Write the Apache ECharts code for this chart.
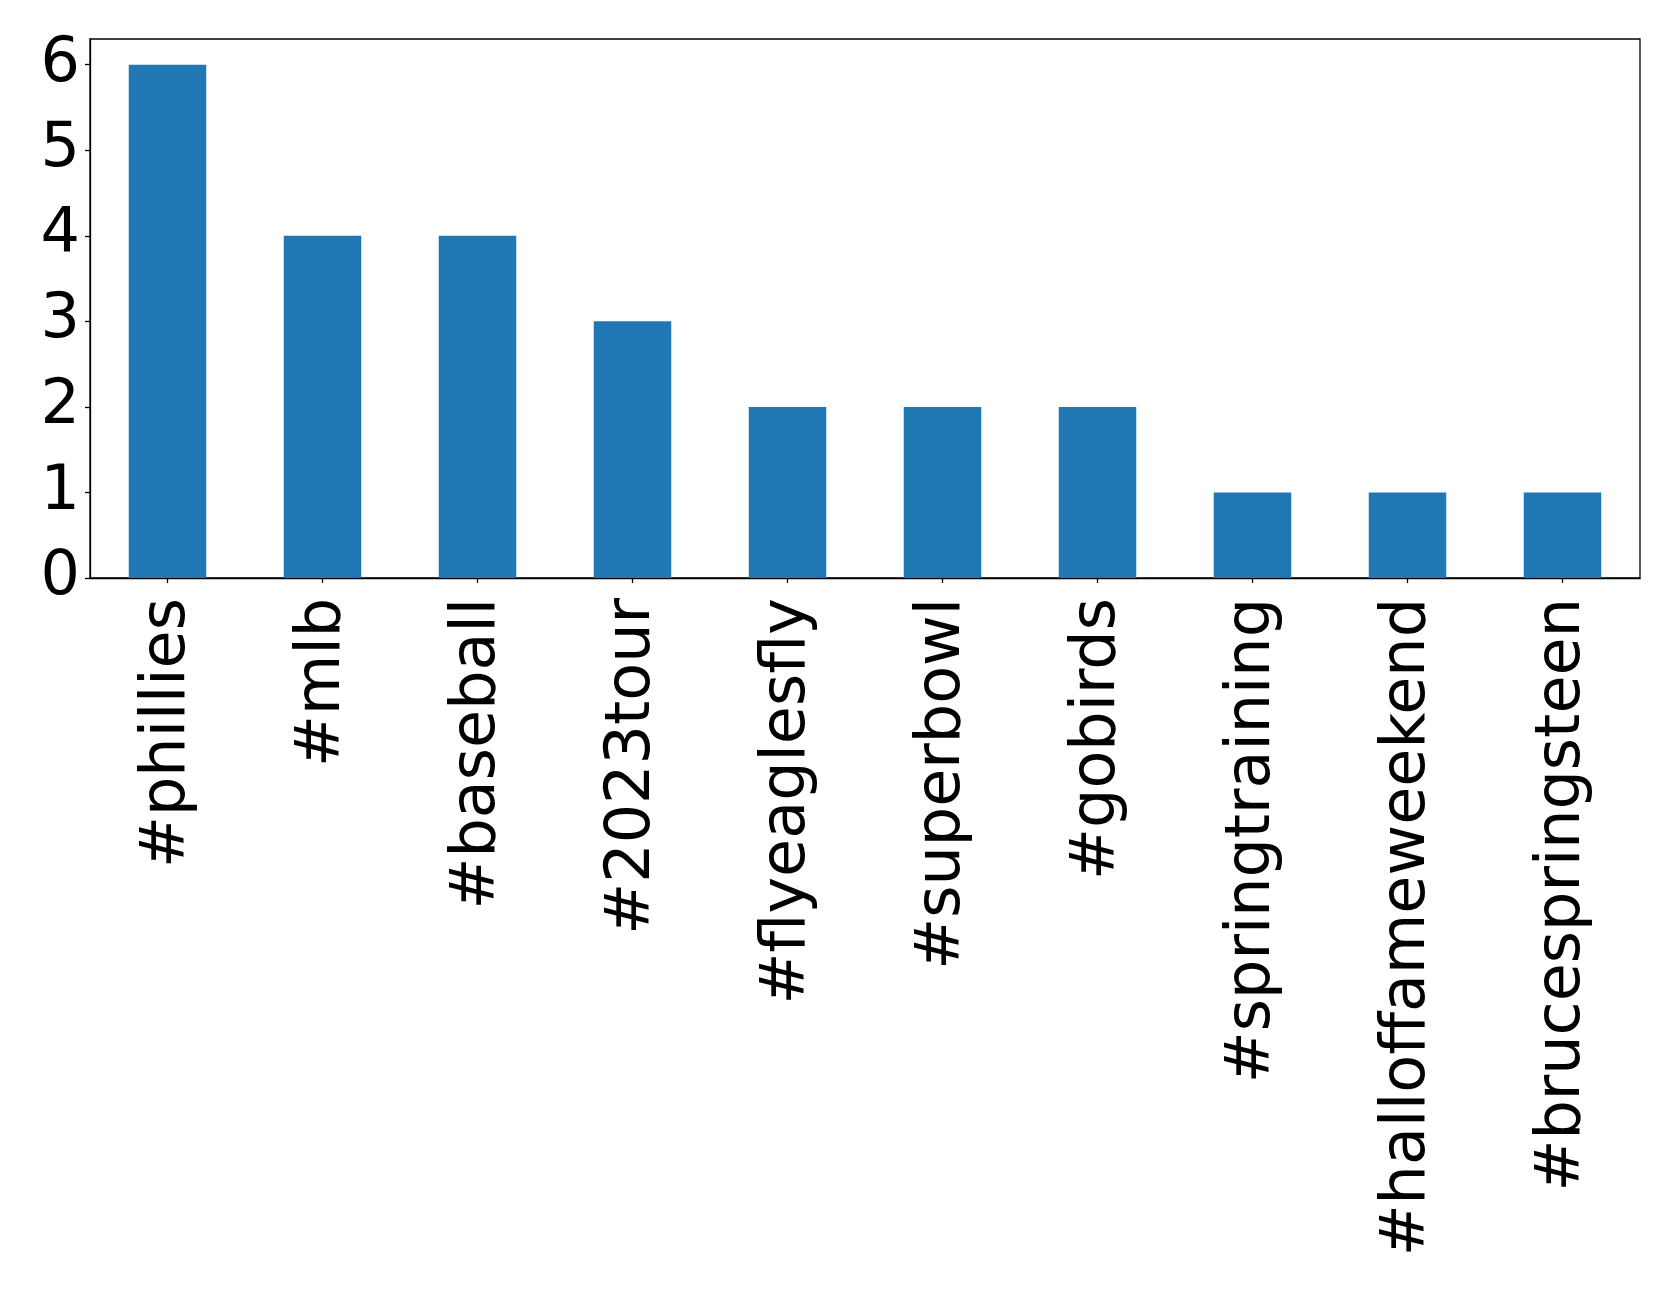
<!DOCTYPE html>
<html>
<head>
<meta charset="utf-8">
<script src="https://cdn.jsdelivr.net/npm/echarts@6/dist/echarts.min.js"></script>
<style>
  html, body { margin: 0; padding: 0; background: #fff; }
  #chart { width: 1679px; height: 1292px; }
</style>
</head>
<body>
<div id="chart"></div>
<script>
// Hashtag counts
const hashtags = ['#phillies', '#mlb', '#baseball', '#2023tour', '#flyeaglesfly',
  '#superbowl', '#gobirds', '#springtraining', '#halloffameweekend', '#brucespringsteen'];
const counts = [6, 4, 4, 3, 2, 2, 2, 1, 1, 1];
const yTicks = [0, 1, 2, 3, 4, 5, 6];

const chart = echarts.init(document.getElementById('chart'), null, { renderer: 'canvas' });
const font = 'DejaVu Sans';

chart.setOption({
  animation: false,
  backgroundColor: '#fff',
  grid: {
    left: 90, right: 39, top: 39, bottom: 714,
    show: true, borderColor: '#000', borderWidth: 1.3, backgroundColor: 'transparent'
  },
  xAxis: {
    type: 'category',
    data: hashtags,
    boundaryGap: true,
    axisLine: { show: true, lineStyle: { color: '#000', width: 1.3 } },
    axisTick: { show: true, alignWithLabel: true, length: 5, lineStyle: { color: '#000', width: 1.3 } },
    axisLabel: {
      rotate: 90, interval: 0, margin: 20,
      color: '#000', fontFamily: font, fontSize: 62
    },
    splitLine: { show: false }
  },
  yAxis: {
    type: 'value',
    min: 0, max: 6.3,
    axisLine: { show: true, lineStyle: { color: '#000', width: 1.3 } },
    axisTick: { show: true, length: 5, customValues: yTicks, lineStyle: { color: '#000', width: 1.3 } },
    axisLabel: {
      customValues: yTicks, margin: 10,
      color: '#000', fontFamily: font, fontSize: 62
    },
    splitLine: { show: false }
  },
  series: [{
    type: 'bar',
    data: counts,
    barWidth: '50%',
    itemStyle: { color: '#1f77b4' }
  }]
});
</script>
</body>
</html>
